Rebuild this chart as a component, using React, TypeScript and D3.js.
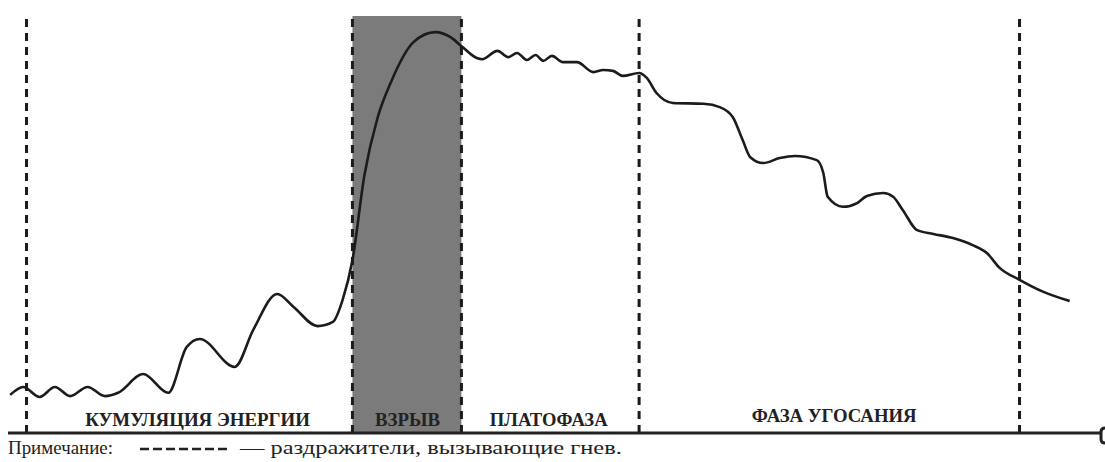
import { useEffect, useRef } from 'react';
import * as d3 from 'd3';

const WIDTH = 1105;
const HEIGHT = 462;

// time in % of the anger episode, intensity in % of the peak scale
const timePoints = [
  0.2, 1.4, 2.9, 4.3, 5.7, 7.3, 8.9, 10.1, 12.4, 14.7, 16.4, 17.6, 20.8, 22.5, 24.7, 26.2,
  28.4, 29.8, 30.7, 31.6, 32.7, 33.9, 35.1, 37.2, 39.2, 40.6, 41.7, 43.0, 43.5, 44.9, 45.9,
  46.7, 47.6, 48.4, 49.1, 49.9, 50.9, 52.2, 53.7, 54.6, 55.5, 56.4, 57.9, 58.6, 59.5, 61.0,
  63.8, 65.3, 66.5, 67.4, 68.1, 69.3, 70.8, 72.2, 74.2, 74.8, 75.2, 76.6, 77.9, 78.8, 80.3,
  81.2, 82.1, 83.4, 84.9, 86.7, 88.5, 89.8, 91.0, 92.8, 95.0, 97.4,
];
const intensity = [
  8.9, 10.8, 8.4, 10.8, 8.6, 10.8, 8.6, 9.4, 13.9, 9.4, 20.4, 22.3, 15.6, 24.5, 33.1, 30.0,
  25.4, 26.4, 31.7, 41.2, 61.6, 75.3, 83.7, 93.5, 95.9, 94.7, 92.3, 89.7, 89.4, 91.4, 89.9,
  90.9, 89.2, 90.4, 89.0, 90.2, 88.7, 88.7, 86.3, 86.8, 86.6, 85.4, 86.1, 84.9, 81.3, 78.9,
  78.7, 77.9, 75.5, 70.0, 65.9, 64.5, 65.7, 66.2, 65.2, 62.1, 56.4, 54.0, 54.9, 56.6, 57.3,
  56.4, 53.2, 48.4, 47.5, 46.5, 44.8, 42.9, 39.3, 36.5, 33.6, 31.4,
];

// moments of anger-provoking stimuli
const stimulusTimes = [1.7, 31.6, 41.6, 57.9, 92.8];
const burstPhase = [31.6, 41.6];

const phaseNames = ['КУМУЛЯЦИЯ ЭНЕРГИИ', 'ВЗРЫВ', 'ПЛАТОФАЗА', 'ФАЗА УГОСАНИЯ'];
const phaseCenters = [17.4, 36.65, 49.6, 75.8];

const noteLabel = 'Примечание:';
const noteText = '— раздражители, вызывающие гнев.';

// layout only
const LABEL_WIDTHS = [225, 65, 118, 165];
const LABEL_BASELINES = [426, 426, 426, 422];
const SERIF = 'Liberation Serif';
const INK = '#1b1b1b';

export default function App() {
  const svgRef = useRef<SVGSVGElement>(null);

  const x = d3.scaleLinear().domain([0, 100]).range([8, 1098]);
  const y = d3.scaleLinear().domain([0, 100]).range([432, 15]);
  const axisY = 433;
  const top = 16;
  const end = x(100);

  const line = d3
    .line<number>()
    .x((_, i) => x(timePoints[i]))
    .y((d) => y(d))
    .curve(d3.curveMonotoneX);

  // stretch texts horizontally to the widths of the original print
  useEffect(() => {
    if (!svgRef.current) return;
    d3.select(svgRef.current)
      .selectAll<SVGTextElement, unknown>('text.fit')
      .each(function () {
        const el = this;
        const target = +(el.getAttribute('data-w') ?? 0);
        const x0 = +(el.getAttribute('data-x') ?? 0);
        const y0 = +(el.getAttribute('data-y') ?? 0);
        const len = el.getComputedTextLength();
        const sx = len > 0 ? target / len : 1;
        d3.select(el).attr('transform', `translate(${x0},${y0}) scale(${sx},1)`);
      });
  }, []);

  const fitText = (
    key: string,
    text: string,
    x0: number,
    y0: number,
    w: number,
    size: number,
    bold: boolean
  ) => (
    <text
      key={key}
      className="fit"
      data-x={x0}
      data-y={y0}
      data-w={w}
      transform={`translate(${x0},${y0})`}
      fontFamily={SERIF}
      fontWeight={bold ? 'bold' : 'normal'}
      fontSize={size}
      fill="#222"
    >
      {text}
    </text>
  );

  return (
    <svg
      ref={svgRef}
      width={WIDTH}
      height={HEIGHT}
      style={{ position: 'absolute', left: 0, top: 0, background: '#fff' }}
    >
      {/* burst phase band */}
      <rect
        x={x(burstPhase[0])}
        y={top}
        width={x(burstPhase[1]) - x(burstPhase[0])}
        height={axisY - top}
        fill="#7b7b7b"
      />

      {/* stimulus lines */}
      {stimulusTimes.map((t, i) => (
        <line
          key={i}
          x1={x(t)}
          x2={x(t)}
          y1={axisY}
          y2={top}
          stroke={INK}
          strokeWidth={3}
          strokeDasharray="8,6"
        />
      ))}

      {/* anger curve */}
      <path d={line(intensity) ?? ''} fill="none" stroke={INK} strokeWidth={2.6} strokeLinejoin="round" />

      {/* time axis */}
      <line x1={x(0)} x2={end + 4} y1={axisY} y2={axisY} stroke="#222" strokeWidth={3} />
      <path
        d={`M${end + 7},${axisY - 5} Q${end + 3},${axisY - 5} ${end + 3},${axisY - 1} L${end + 3},${axisY + 6} Q${end + 3},${axisY + 10} ${end + 7},${axisY + 10}`}
        fill="none"
        stroke="#222"
        strokeWidth={3}
      />

      {/* phase labels */}
      {phaseNames.map((name, i) =>
        fitText(name, name, x(phaseCenters[i]) - LABEL_WIDTHS[i] / 2, LABEL_BASELINES[i], LABEL_WIDTHS[i], 18, true)
      )}

      {/* note */}
      {fitText('note-label', noteLabel, 8, 454, 105, 19, false)}
      <line x1={140} x2={231} y1={449} y2={449} stroke="#222" strokeWidth={2.6} strokeDasharray="9,4" />
      {fitText('note-text', noteText, 240, 454, 382, 19, false)}
    </svg>
  );
}
